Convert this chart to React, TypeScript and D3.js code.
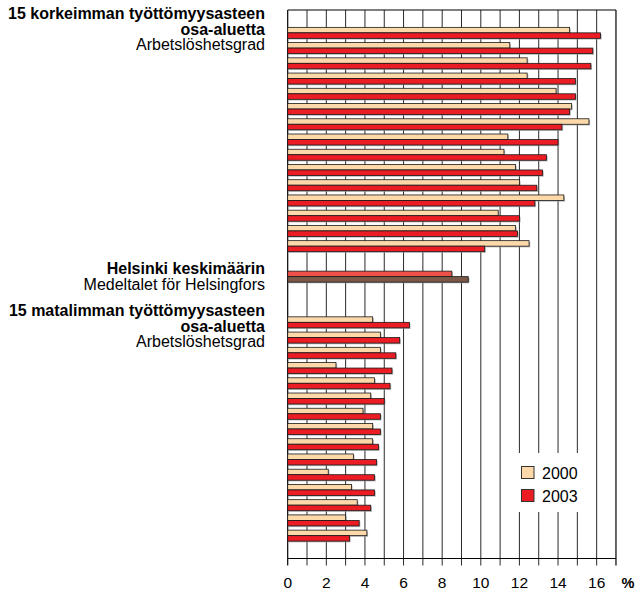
import React from "react";
import * as d3 from "d3";

// ---- data ----
const highAreas = ["K1","K2","K3","K4","K5","K6","K7","K8","K9","K10","K11","K12","K13","K14","K15"];
const high2000 = [14.6, 11.5, 12.4, 12.4, 13.9, 14.7, 15.6, 11.4, 11.2, 11.8, 12.0, 14.3, 10.9, 11.8, 12.5];
const high2003 = [16.2, 15.8, 15.7, 14.9, 14.9, 14.6, 14.2, 14.0, 13.4, 13.2, 12.9, 12.8, 12.0, 11.9, 10.2];
const lowAreas = ["M1","M2","M3","M4","M5","M6","M7","M8","M9","M10","M11","M12","M13","M14","M15"];
const low2000 = [4.4, 4.8, 4.8, 2.5, 4.5, 4.3, 3.9, 4.4, 4.4, 3.4, 2.1, 3.3, 3.6, 3.0, 4.1];
const low2003 = [6.3, 5.8, 5.6, 5.4, 5.3, 5.0, 4.8, 4.8, 4.7, 4.6, 4.5, 4.5, 4.3, 3.7, 3.2];
const helsinkiValues = [8.5, 9.35];
const years = ["2000", "2003"];
const xTicks = [0, 2, 4, 6, 8, 10, 12, 14, 16];

const COL2000 = "#fdd9a9";
const COL2003 = "#ec1c24";
const HEL_COLS = ["#ef5148", "#7b5847"];
const FONT = "'Liberation Sans', Arial, Helvetica, sans-serif";

export default function App() {
  const W = 637, H = 593;
  const x0 = 287.7;
  const x = d3.scaleLinear().domain([0, 17]).range([x0, x0 + 17 * 19.31]);
  const slots = ["_t", ...highAreas, "_g1", "Helsinki", "_g2", "_g3", ...lowAreas, "_b"];
  const y = d3.scaleBand<string>().domain(slots).range([10, 558.5]).padding(0);
  const bh = 5.5;
  const top = 10, axisY = 558.5, tickEnd = 565.5;
  const right = x(17);

  const pairs: { key: string; v: number; col: string; dy: number }[] = [];
  highAreas.forEach((k, i) => {
    pairs.push({ key: k, v: high2000[i], col: COL2000, dy: -bh });
    pairs.push({ key: k, v: high2003[i], col: COL2003, dy: 0 });
  });
  helsinkiValues.forEach((v, i) => pairs.push({ key: "Helsinki", v, col: HEL_COLS[i], dy: i === 0 ? -bh : 0 }));
  lowAreas.forEach((k, i) => {
    pairs.push({ key: k, v: low2000[i], col: COL2000, dy: -bh });
    pairs.push({ key: k, v: low2003[i], col: COL2003, dy: 0 });
  });

  const grid = d3.range(1, 17);

  const leftLabel = (lines: { t: string; b: boolean }[], y0: number) =>
    lines.map((l, i) => (
      <text key={i} x={265} y={y0 + i * 15.5} textAnchor="end" fontSize={16}
        fontWeight={l.b ? "bold" : "normal"} fill="#000">{l.t}</text>
    ));

  return (
    <svg width={W} height={H} style={{ position: "absolute", left: 0, top: 0, background: "#fff" }}
      fontFamily={FONT}>
      <rect x={0} y={0} width={W} height={H} fill="#fff" />
      {grid.map((g) => (
        <line key={g} x1={x(g)} x2={x(g)} y1={top} y2={tickEnd} stroke="#2a2a2a" strokeWidth={1} />
      ))}
      <line x1={x(0)} x2={x(0)} y1={top} y2={tickEnd} stroke="#000" strokeWidth={1.2} />
      <line x1={right} x2={right} y1={top} y2={tickEnd} stroke="#000" strokeWidth={1.2} />
      <line x1={x(0)} x2={right} y1={top} y2={top} stroke="#000" strokeWidth={1.2} />
      <line x1={x(0)} x2={right} y1={axisY} y2={axisY} stroke="#000" strokeWidth={1.2} />

      {/* legend background */}
      <rect x={511} y={453} width={78} height={59} fill="#fff" />

      {pairs.map((p, i) => {
        const cy = (y(p.key) as number) + y.bandwidth() / 2 + p.dy;
        return (
          <g key={i}>
            <rect x={x(0) + 1.2} y={cy + 1.2} width={x(p.v) - x(0)} height={bh} fill="#9a9a9a" opacity={0.7} />
            <rect x={x(0)} y={cy} width={x(p.v) - x(0)} height={bh} fill={p.col} stroke="#1a1a1a" strokeWidth={0.8} />
          </g>
        );
      })}

      {years.map((yr, i) => (
        <g key={yr}>
          <rect x={521.5} y={466.5 + i * 23} width={12.5} height={12} fill={i === 0 ? COL2000 : COL2003} stroke="#333" strokeWidth={1} />
          <text x={542} y={478.5 + i * 23} fontSize={16} fill="#000">{yr}</text>
        </g>
      ))}

      {xTicks.map((t) => (
        <text key={t} x={x(t)} y={588} textAnchor="middle" fontSize={15.5} fill="#000">{t}</text>
      ))}
      <text x={628} y={588} textAnchor="middle" fontSize={14.5} fontWeight="bold" fill="#000">%</text>

      {leftLabel([
        { t: "15 korkeimman työttömyysasteen", b: true },
        { t: "osa-aluetta", b: true },
        { t: "Arbetslöshetsgrad", b: false },
      ], 19)}
      {leftLabel([
        { t: "Helsinki keskimäärin", b: true },
        { t: "Medeltalet för Helsingfors", b: false },
      ], 274)}
      {leftLabel([
        { t: "15 matalimman työttömyysasteen", b: true },
        { t: "osa-aluetta", b: true },
        { t: "Arbetslöshetsgrad", b: false },
      ], 316)}
    </svg>
  );
}
